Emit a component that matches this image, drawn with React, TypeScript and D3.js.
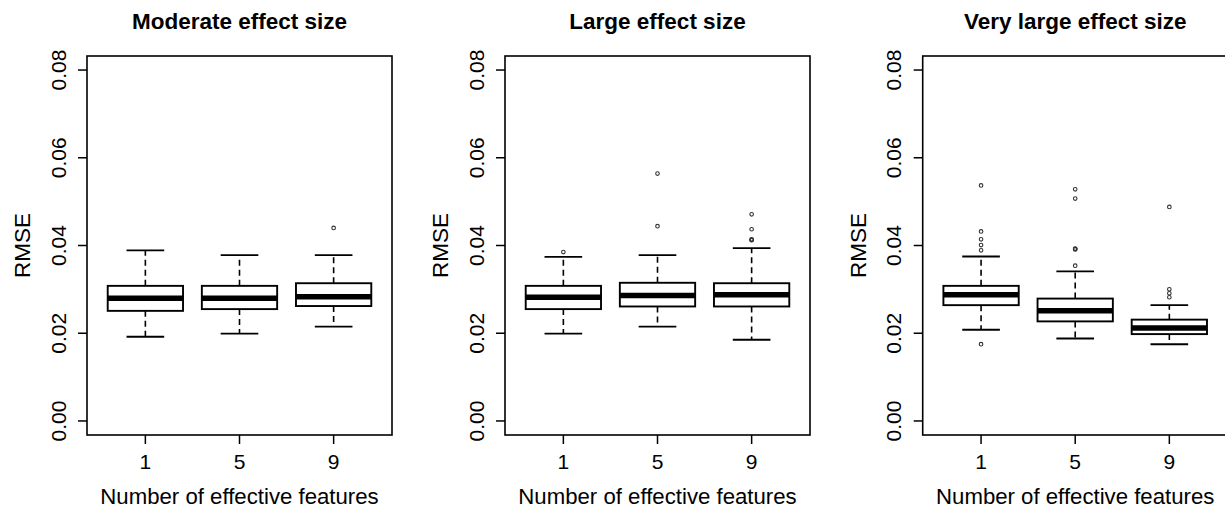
import React from "react";
import * as d3 from "d3";

const categories = ["1", "5", "9"];
const panelTitles = ["Moderate effect size", "Large effect size", "Very large effect size"];
const yTicks = [0, 0.02, 0.04, 0.06, 0.08];

const moderateLow = [0.0192, 0.0199, 0.0215];
const moderateQ1 = [0.0251, 0.0255, 0.0262];
const moderateMed = [0.028, 0.028, 0.0283];
const moderateQ3 = [0.0308, 0.0308, 0.0314];
const moderateHigh = [0.0389, 0.0378, 0.0378];
const moderateOut = [[], [], [0.044]];

const largeLow = [0.0199, 0.0215, 0.0185];
const largeQ1 = [0.0255, 0.0261, 0.0261];
const largeMed = [0.0282, 0.0286, 0.0288];
const largeQ3 = [0.0308, 0.0315, 0.0314];
const largeHigh = [0.0374, 0.0378, 0.0394];
const largeOut = [[0.0385], [0.0564, 0.0444], [0.0471, 0.0437, 0.0414, 0.0413, 0.0412]];

const vlargeLow = [0.0208, 0.0188, 0.0175];
const vlargeQ1 = [0.0264, 0.0227, 0.0198];
const vlargeMed = [0.0288, 0.0251, 0.0212];
const vlargeQ3 = [0.0308, 0.0279, 0.0231];
const vlargeHigh = [0.0375, 0.0341, 0.0264];
const vlargeOut = [
  [0.0537, 0.0432, 0.0414, 0.0401, 0.0389, 0.0175],
  [0.0528, 0.0507, 0.0393, 0.0392, 0.0391, 0.0354],
  [0.0488, 0.03, 0.0291, 0.0282],
];

const panels = [
  { low: moderateLow, q1: moderateQ1, med: moderateMed, q3: moderateQ3, high: moderateHigh, out: moderateOut },
  { low: largeLow, q1: largeQ1, med: largeMed, q3: largeQ3, high: largeHigh, out: largeOut },
  { low: vlargeLow, q1: vlargeQ1, med: vlargeMed, q3: vlargeQ3, high: vlargeHigh, out: vlargeOut },
];

const W = 1225;
const H = 512;
const panelLefts = [87, 505, 922.7];
const plotW = 305;
const plotTop = 56;
const plotBottom = 435;
const FONT = "'Liberation Sans', Arial, Helvetica, sans-serif";

function Panel({ idx }: { idx: number }) {
  const L = panelLefts[idx];
  const d = panels[idx];
  const x = d3.scaleLinear().domain([0.38, 3.62]).range([L, L + plotW]);
  const y = d3.scaleLinear().domain([-0.0032, 0.0832]).range([plotBottom, plotTop]);
  const cx = (L + L + plotW) / 2;
  return (
    <g>
      <text x={cx} y={29} textAnchor="middle" fontFamily={FONT} fontWeight="bold" fontSize={22.5} fill="#000">
        {panelTitles[idx]}
      </text>
      <rect x={L} y={plotTop} width={plotW} height={plotBottom - plotTop} fill="none" stroke="#000" strokeWidth={1.6} />
      {yTicks.map((t) => (
        <g key={t}>
          <line x1={L - 9} x2={L} y1={y(t)} y2={y(t)} stroke="#000" strokeWidth={1.5} />
          <text
            transform={`translate(${L - 21.5},${y(t)}) rotate(-90)`}
            textAnchor="middle"
            fontFamily={FONT}
            fontSize={21}
            fill="#000"
          >
            {d3.format(".2f")(t)}
          </text>
        </g>
      ))}
      <text
        transform={`translate(${L - 57},${(plotTop + plotBottom) / 2}) rotate(-90)`}
        textAnchor="middle"
        fontFamily={FONT}
        fontSize={22.5}
        fill="#000"
      >
        RMSE
      </text>
      {categories.map((c, i) => {
        const p = i + 1;
        return (
          <g key={c}>
            <line x1={x(p)} x2={x(p)} y1={plotBottom} y2={plotBottom + 9} stroke="#000" strokeWidth={1.5} />
            <text x={x(p)} y={468.5} textAnchor="middle" fontFamily={FONT} fontSize={21} fill="#000">
              {c}
            </text>
          </g>
        );
      })}
      <text x={cx} y={504} textAnchor="middle" fontFamily={FONT} fontSize={22.2} fill="#000">
        Number of effective features
      </text>
      {categories.map((c, i) => {
        const p = i + 1;
        return (
          <g key={"b" + c}>
            <line x1={x(p)} x2={x(p)} y1={y(d.q3[i])} y2={y(d.high[i])} stroke="#000" strokeWidth={1.6} strokeDasharray="6,4" />
            <line x1={x(p)} x2={x(p)} y1={y(d.q1[i])} y2={y(d.low[i])} stroke="#000" strokeWidth={1.6} strokeDasharray="6,4" />
            <line x1={x(p - 0.2)} x2={x(p + 0.2)} y1={y(d.high[i])} y2={y(d.high[i])} stroke="#000" strokeWidth={1.9} />
            <line x1={x(p - 0.2)} x2={x(p + 0.2)} y1={y(d.low[i])} y2={y(d.low[i])} stroke="#000" strokeWidth={1.9} />
            <rect
              x={x(p - 0.4)}
              y={y(d.q3[i])}
              width={x(p + 0.4) - x(p - 0.4)}
              height={y(d.q1[i]) - y(d.q3[i])}
              fill="#fff"
              stroke="#000"
              strokeWidth={1.9}
            />
            <line x1={x(p - 0.4)} x2={x(p + 0.4)} y1={y(d.med[i])} y2={y(d.med[i])} stroke="#000" strokeWidth={5.5} />
            {d.out[i].map((v, k) => (
              <circle key={k} cx={x(p)} cy={y(v)} r={1.8} fill="none" stroke="#333" strokeWidth={1.1} />
            ))}
          </g>
        );
      })}
    </g>
  );
}

export default function App() {
  return (
    <svg
      width={W}
      height={H}
      viewBox={`0 0 ${W} ${H}`}
      style={{ position: "absolute", left: 0, top: 0, background: "#fff" }}
    >
      <rect x={0} y={0} width={W} height={H} fill="#fff" />
      {panelTitles.map((t, i) => (
        <Panel key={t} idx={i} />
      ))}
    </svg>
  );
}
